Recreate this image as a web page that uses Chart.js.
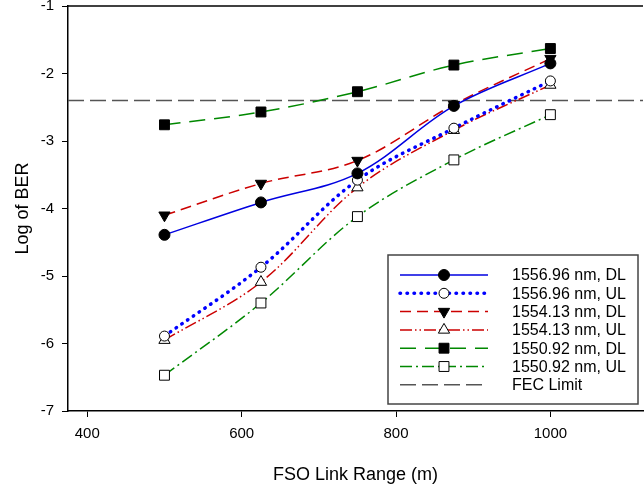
<!DOCTYPE html>
<html>
<head>
<meta charset="utf-8">
<script src="https://cdn.jsdelivr.net/npm/chart.js@4.4.0/dist/chart.umd.min.js"></script>
<style>
    html, body { margin: 0; padding: 0; background: #fff; }
    #wrap { width: 644px; height: 484px; overflow: hidden; position: relative; }
    /* the original figure is cut off on the right, so the canvas runs a bit past the page */
    #berChart { display: block; position: absolute; left: 0; top: -2px; }
</style>
</head>
<body>
<div id="wrap"><canvas id="berChart" width="651" height="486"></canvas></div>
<script>
/* global Chart */
// link range (m) and log(BER)
const ranges = [500, 625, 750, 875, 1000];
const dl1556 = [-4.39, -3.91, -3.48, -2.48, -1.85];
const ul1556 = [-5.89, -4.87, -3.58, -2.81, -2.11];
const dl1554 = [-4.10, -3.63, -3.29, -2.46, -1.78];
const ul1554 = [-5.95, -5.09, -3.69, -2.84, -2.17];
const dl1550 = [-2.76, -2.57, -2.27, -1.875, -1.63];
const ul1550 = [-6.47, -5.40, -4.12, -3.28, -2.61];
const fecLimit = -2.4;

const xRange = [375, 1120];
const yRange = [-7, -1];
const xTicks = [400, 600, 800, 1000];
const yTicks = [-7, -6, -5, -4, -3, -2, -1];

const seriesLabels = [
    "1556.96 nm, DL", "1556.96 nm, UL",
    "1554.13 nm, DL", "1554.13 nm, UL",
    "1550.92 nm, DL", "1550.92 nm, UL",
    "FEC Limit"
];

const FONT = "'Liberation Sans', Arial, sans-serif";

function toPoints(values) {
    return ranges.map((x, i) => ({ x: x, y: values[i] }));
}

function series(label, values, style) {
    return Object.assign({
        label: label,
        data: toPoints(values),
        fill: false,
        tension: 0.35,
        borderWidth: 1.5,
        pointBorderColor: "#000",
        pointBorderWidth: 1,
        pointHoverRadius: 0
    }, style);
}

const datasets = [
    series(seriesLabels[0], dl1556, {
        borderColor: "#0000e0", borderDash: [],
        pointStyle: "circle", pointRadius: 5.5, pointBackgroundColor: "#000"
    }),
    series(seriesLabels[1], ul1556, {
        borderColor: "#0000ff", borderDash: [0.5, 6.5], borderWidth: 3.5, borderCapStyle: "round",
        pointStyle: "circle", pointRadius: 5, pointBackgroundColor: "#fff"
    }),
    series(seriesLabels[2], dl1554, {
        borderColor: "#cc0000", borderDash: [11, 6],
        pointStyle: "triangle", pointRotation: 180, pointRadius: 6.5, pointBackgroundColor: "#000"
    }),
    series(seriesLabels[3], ul1554, {
        borderColor: "#cc0000", borderDash: [12, 3, 1.5, 3, 1.5, 3],
        pointStyle: "triangle", pointRadius: 6.5, pointBackgroundColor: "#fff"
    }),
    series(seriesLabels[4], dl1550, {
        borderColor: "#008800", borderDash: [16, 9],
        pointStyle: "rect", pointRadius: 7, pointBackgroundColor: "#000"
    }),
    series(seriesLabels[5], ul1550, {
        borderColor: "#008800", borderDash: [12, 4, 2, 4],
        pointStyle: "rect", pointRadius: 7, pointBackgroundColor: "#fff"
    }),
    {
        label: seriesLabels[6],
        data: xRange.map(x => ({ x: x, y: fecLimit })),
        borderColor: "#555",
        borderWidth: 1.5,
        borderDash: [16, 6],
        pointRadius: 0,
        pointStyle: false,
        fill: false,
        tension: 0
    }
];

// top frame line (right side is cut off in the original figure)
const framePlugin = {
    id: "frame",
    afterDatasetsDraw(chart) {
        const { ctx, chartArea } = chart;
        ctx.save();
        ctx.strokeStyle = "#000";
        ctx.lineWidth = 1.5;
        ctx.beginPath();
        ctx.moveTo(chartArea.left, chartArea.top);
        ctx.lineTo(chartArea.right, chartArea.top);
        ctx.stroke();
        ctx.restore();
    }
};

// boxed legend with line sample and marker in the middle (page coords, canvas sits 2px higher)
const legendPlugin = {
    id: "boxLegend",
    afterDraw(chart) {
        const ctx = chart.ctx;
        const box = { x: 388, y: 257, w: 250, h: 149 };
        const rowH = 18.3;
        const row0 = 277;
        ctx.save();
        ctx.fillStyle = "#fff";
        ctx.fillRect(box.x, box.y, box.w, box.h);
        ctx.strokeStyle = "#444";
        ctx.lineWidth = 1.5;
        ctx.strokeRect(box.x, box.y, box.w, box.h);

        chart.data.datasets.forEach((ds, i) => {
            const y = row0 + i * rowH;
            ctx.save();
            ctx.strokeStyle = ds.borderColor;
            ctx.lineWidth = ds.borderWidth;
            ctx.lineCap = ds.borderCapStyle || "butt";
            ctx.setLineDash(ds.borderDash || []);
            ctx.beginPath();
            ctx.moveTo(400, y);
            ctx.lineTo(488, y);
            ctx.stroke();
            ctx.restore();

            if (ds.pointStyle) {
                ctx.save();
                ctx.fillStyle = ds.pointBackgroundColor;
                ctx.strokeStyle = ds.pointBorderColor;
                ctx.lineWidth = ds.pointBorderWidth;
                Chart.helpers.drawPoint(ctx, {
                    pointStyle: ds.pointStyle,
                    rotation: ds.pointRotation || 0,
                    radius: ds.pointRadius,
                    borderWidth: ds.pointBorderWidth
                }, 444, y);
                ctx.restore();
            }

            ctx.fillStyle = "#000";
            ctx.font = "16px " + FONT;
            ctx.textBaseline = "middle";
            ctx.textAlign = "left";
            ctx.fillText(ds.label, 512, y + 1);
        });
        ctx.restore();
    }
};

new Chart(document.getElementById("berChart"), {
    type: "line",
    data: { datasets: datasets },
    plugins: [framePlugin, legendPlugin],
    options: {
        responsive: false,
        animation: false,
        events: [],
        layout: { padding: { top: 8, right: 0, bottom: 0, left: 0 } },
        plugins: {
            legend: { display: false },
            tooltip: { enabled: false }
        },
        scales: {
            x: {
                type: "linear",
                min: xRange[0],
                max: xRange[1],
                afterBuildTicks: scale => { scale.ticks = xTicks.map(v => ({ value: v })); },
                afterFit: scale => {
                    scale.height = 73;
                    scale.paddingLeft = 0;
                    scale.paddingRight = 0;
                },
                border: { display: true, color: "#000", width: 1.5 },
                grid: { drawOnChartArea: false, drawTicks: true, tickLength: 6, color: "#000", lineWidth: 1 },
                ticks: {
                    color: "#000", padding: 8, maxRotation: 0,
                    font: { family: FONT, size: 15 },
                    callback: v => String(v)
                },
                title: {
                    display: true,
                    text: "FSO Link Range (m)",
                    color: "#000",
                    padding: { top: 0, bottom: 0 },
                    font: { family: FONT, size: 18, lineHeight: 1 }
                }
            },
            y: {
                type: "linear",
                min: yRange[0],
                max: yRange[1],
                afterBuildTicks: scale => { scale.ticks = yTicks.map(v => ({ value: v })); },
                afterFit: scale => {
                    scale.width = 68;
                    scale.paddingTop = 0;
                    scale.paddingBottom = 0;
                },
                border: { display: true, color: "#000", width: 1.5 },
                grid: { drawOnChartArea: false, drawTicks: true, tickLength: 6, color: "#000", lineWidth: 1 },
                ticks: {
                    color: "#000", padding: 8,
                    font: { family: FONT, size: 15 },
                    callback: v => String(v)
                },
                title: {
                    display: true,
                    text: "Log of BER",
                    color: "#000",
                    padding: { top: 12, bottom: 0 },
                    font: { family: FONT, size: 18 }
                }
            }
        }
    }
});
</script>
</body>
</html>
